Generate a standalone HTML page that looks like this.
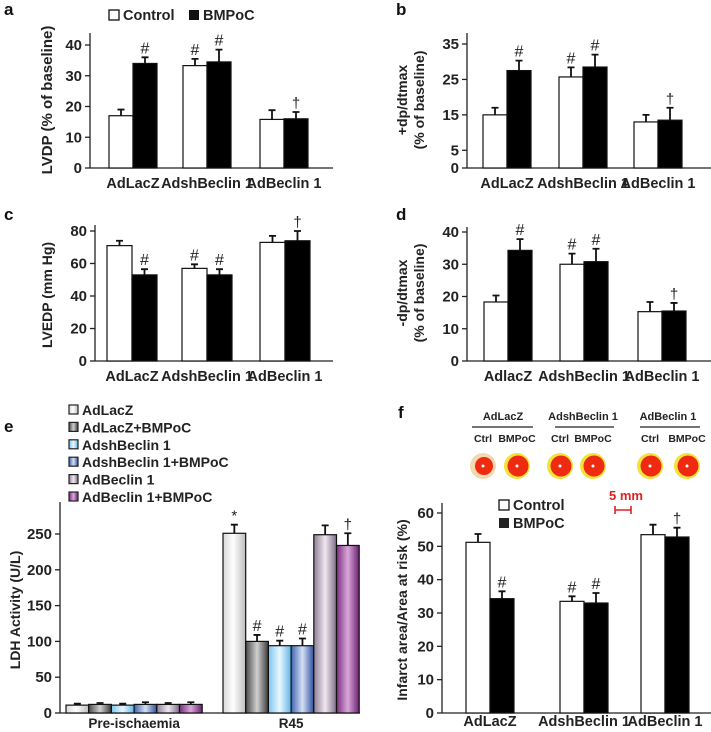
<!DOCTYPE html>
<html><head><meta charset="utf-8"><style>
body{margin:0;background:#fff;}
svg{display:block;font-family:"Liberation Sans",sans-serif;font-weight:bold;}
</style></head><body>
<svg id="fig" width="711" height="732" viewBox="0 0 711 732">
<defs>
<linearGradient id="g0" x1="0" x2="1"><stop offset="0" stop-color="#d8d8d8"/><stop offset="0.45" stop-color="#ffffff"/><stop offset="1" stop-color="#bdbdbd"/></linearGradient>
<linearGradient id="g1" x1="0" x2="1"><stop offset="0" stop-color="#4a4a4a"/><stop offset="0.5" stop-color="#d0d0d0"/><stop offset="1" stop-color="#3a3a3a"/></linearGradient>
<linearGradient id="g2" x1="0" x2="1"><stop offset="0" stop-color="#7cc6ee"/><stop offset="0.5" stop-color="#eaf7ff"/><stop offset="1" stop-color="#5fb5e8"/></linearGradient>
<linearGradient id="g3" x1="0" x2="1"><stop offset="0" stop-color="#3f63b0"/><stop offset="0.5" stop-color="#d4e0f5"/><stop offset="1" stop-color="#2f4f9c"/></linearGradient>
<linearGradient id="g4" x1="0" x2="1"><stop offset="0" stop-color="#8e7e96"/><stop offset="0.5" stop-color="#efe8f0"/><stop offset="1" stop-color="#7e6c88"/></linearGradient>
<linearGradient id="g5" x1="0" x2="1"><stop offset="0" stop-color="#7a2d7e"/><stop offset="0.5" stop-color="#d9a8d9"/><stop offset="1" stop-color="#6a1f70"/></linearGradient>
</defs>
</svg>
<script>
// Panel a: LVDP
const catsABCD = ["AdLacZ","AdshBeclin 1","AdBeclin 1"];
const catsD = ["AdlacZ","AdshBeclin 1","AdBeclin 1"];
const aCtrl = [17, 33.3, 15.8];
const aBmp = [34, 34.5, 16];
const aCtrlErr = [2, 2.2, 3];
const aBmpErr = [2, 4, 2.2];
const aTicks = [0,10,20,30,40];
// Panel b: +dp/dtmax
const bCtrl = [15, 25.7, 13];
const bBmp = [27.5, 28.5, 13.5];
const bCtrlErr = [2, 2.7, 2];
const bBmpErr = [2.8, 3.5, 3.5];
const bTicks = [0,5,15,25,35];
// Panel c: LVEDP
const cCtrl = [71, 57, 73];
const cBmp = [53, 53, 74];
const cCtrlErr = [3, 2.5, 4];
const cBmpErr = [3.5, 3.5, 6];
const cTicks = [0,20,40,60,80];
// Panel d: -dp/dtmax
const dCtrl = [18.3, 30, 15.3];
const dBmp = [34.3, 30.8, 15.5];
const dCtrlErr = [2, 3.3, 3];
const dBmpErr = [3.5, 4, 2.5];
const dTicks = [0,10,20,30,40];
// Panel e: LDH
const eCats = ["Pre-ischaemia","R45"];
const eSeries = ["AdLacZ","AdLacZ+BMPoC","AdshBeclin 1","AdshBeclin 1+BMPoC","AdBeclin 1","AdBeclin 1+BMPoC"];
const ePre = [11, 12, 11, 12, 12, 12];
const ePreErr = [2, 2, 2, 3, 2, 3];
const eR45 = [251, 100, 94, 94, 249, 234];
const eR45Err = [12, 9, 7, 10, 13, 17];
const eR45Marks = ["*","#","#","#","","†"];
const eTicks = [0,50,100,150,200,250];
// Panel f: infarct
const fCtrl = [51.2, 33.5, 53.5];
const fBmp = [34.3, 33, 52.8];
const fCtrlErr = [2.5, 1.5, 3];
const fBmpErr = [2.2, 3, 2.8];
const fTicks = [0,10,20,30,40,50,60];
const pairMarks = ["","#","#","#","","†"];

const NS="http://www.w3.org/2000/svg";
const svg=document.getElementById('fig');
function mk(tag,attrs,parent,txt){const e=document.createElementNS(NS,tag);for(const k in attrs)e.setAttribute(k,attrs[k]);if(txt!==undefined)e.textContent=txt;(parent||svg).appendChild(e);return e;}

function axes(g,p){
  const ln=mk('line',{x1:p.ax,y1:p.top,x2:p.ax,y2:p.y0,stroke:'#222','stroke-width':1.3},g);
  
  
  const xl=mk('line',{x1:p.ax,y1:p.y0,x2:p.xEnd,y2:p.y0,stroke:'#222','stroke-width':1.3},g);
  
  
  p.ticks.forEach(t=>{
    const y=p.y(t);
    mk('line',{x1:p.ax-5,y1:y,x2:p.ax,y2:y,stroke:'#222','stroke-width':1.3},g);
    const tl=mk('text',{x:p.ax-8,y:y+5,'text-anchor':'end','font-size':15,fill:'#222'},g,String(t));
    
    
  });
}
function bar(g,x,w,v,err,p,fill,mark,name){
  const y=p.y(v);
  const r=mk('rect',{x:x,y:y,width:w,height:p.y0-y,fill:fill,stroke:'#111','stroke-width':1.2},g);
  
  
  const ey=p.y(v+err), cx=x+w/2;
  const eb=mk('path',{d:`M${cx} ${y}V${ey}M${cx-3.5} ${ey}H${cx+3.5}`,stroke:'#111','stroke-width':1.8,fill:'none'},g);
  
  
  if(mark){
    const m=mk('text',{x:cx,y:ey-4,'text-anchor':'middle','font-size':mark==='#'?16:15,'font-weight':'normal',fill:'#222'},g,mark);
    
    
  }
}
function scale(y0,vRef,yRef){return v=>y0-(y0-yRef)*v/vRef;}
function pairPanel(name,p,cats,ctrl,bmp,ce,be,centers,labelY,w){
  const g=mk('g',{});
  
  
  axes(g,p);
  cats.forEach((c,i)=>{
    bar(g,centers[i]-w,w,ctrl[i],ce[i],p,'#fff',pairMarks[2*i],'bar-control-'+i);
    bar(g,centers[i],w,bmp[i],be[i],p,'#000',pairMarks[2*i+1],'bar-bmpoc-'+i);
    const t=mk('text',{x:centers[i],y:labelY,'text-anchor':'middle','font-size':14.5,fill:'#222'},g,c);
    
    
  });
  return g;
}
function ytitle(lines,x,cy,size){
  lines.forEach((l,i)=>{
    const xx=x+i*(size+3);
    const t=mk('text',{x:xx,y:cy,'text-anchor':'middle','font-size':size,fill:'#222',transform:`rotate(-90 ${xx} ${cy})`},svg,l);
    
    
  });
}
function plabel(t,x,y){const e=mk('text',{x:x,y:y,'font-size':17,fill:'#111'},svg,t);
  
  }

// panel a
plabel('a',4,15);
pairPanel('panel-a',{ax:90,top:33,y0:168,xEnd:333,ticks:aTicks,y:scale(168,40,45)},catsABCD,aCtrl,aBmp,aCtrlErr,aBmpErr,[133,207,284],188,24);
ytitle(['LVDP (% of baseline)'],52,100,15);
{const r1=mk('rect',{x:109,y:10,width:10,height:10,fill:'#fff',stroke:'#111','stroke-width':1.3});

const t1=mk('text',{x:123,y:20,'font-size':14.5,fill:'#222'},svg,'Control');

const r2=mk('rect',{x:189,y:10,width:10,height:10,fill:'#111'});

const t2=mk('text',{x:203,y:20,'font-size':14.5,fill:'#222'},svg,'BMPoC');
}

// panel b
plabel('b',396,15);
pairPanel('panel-b',{ax:467,top:33,y0:168,xEnd:711,ticks:bTicks,y:scale(168,35,44)},catsABCD,bCtrl,bBmp,bCtrlErr,bBmpErr,[507,583,658],188,24);
ytitle(['+dp/dtmax','(% of baseline)'],407,100,14);

// panel c
plabel('c',4,220);
pairPanel('panel-c',{ax:95,top:225,y0:361,xEnd:333,ticks:cTicks,y:scale(361,80,231)},catsABCD,cCtrl,cBmp,cCtrlErr,cBmpErr,[132,207,285],381,25);
ytitle(['LVEDP (mm Hg)'],52,295,14);

// panel d
plabel('d',396,220);
pairPanel('panel-d',{ax:467,top:227,y0:361,xEnd:711,ticks:dTicks,y:scale(361,40,232)},catsD,dCtrl,dBmp,dCtrlErr,dBmpErr,[508,584,662],381,24);
ytitle(['-dp/dtmax','(% of baseline)'],407,293,14);

// panel e
plabel('e',4,432);
{const p={ax:60,top:502,y0:713,xEnd:360,ticks:eTicks,y:scale(713,250,534)};
const g=mk('g',{});
axes(g,p);
const w=22.7, starts=[66,223];
[ePre,eR45].forEach((vals,ci)=>{
  const errs=ci===0?ePreErr:eR45Err;
  vals.forEach((v,i)=>{bar(g,starts[ci]+i*w,w,v,errs[i],p,`url(#g${i})`,ci===1?eR45Marks[i]:'','bar-'+eCats[ci].toLowerCase()+'-'+i);});
  const t=mk('text',{x:starts[ci]+3*w,y:728,'text-anchor':'middle','font-size':13.5,fill:'#222'},g,eCats[ci]);
  
});
eSeries.forEach((s,i)=>{
  const y=415+i*17.4;
  const r=mk('rect',{x:69,y:y-10,width:9,height:9,fill:`url(#g${i})`,stroke:'#222','stroke-width':1.2});
  
  const t=mk('text',{x:82,y:y,'font-size':14,fill:'#222'},svg,s);
  
});}
ytitle(['LDH Activity (U/L)'],20,610,14);

// panel f
plabel('f',398,418);
pairPanel('panel-f',{ax:442,top:503,y0:713,xEnd:711,ticks:fTicks,y:scale(713,60,513)},catsABCD,fCtrl,fBmp,fCtrlErr,fBmpErr,[490,584,665],726,24);
ytitle(['Infarct area/Area at risk (%)'],407,610,14);
{const r1=mk('rect',{x:499,y:500,width:10,height:10,fill:'#fff',stroke:'#111','stroke-width':1.3});

const t1=mk('text',{x:513,y:510,'font-size':14.5,fill:'#222'},svg,'Control');

const r2=mk('rect',{x:499,y:518,width:10,height:10,fill:'#222'});

const t2=mk('text',{x:513,y:528,'font-size':14.5,fill:'#222'},svg,'BMPoC');

const sb=mk('text',{x:626,y:500,'text-anchor':'middle','font-size':13,fill:'#e02020'},svg,'5 mm');

const sl=mk('path',{d:'M615 510H631M615 506V514M631 506V514',stroke:'#e02020','stroke-width':1.6});
}
{const groups=[["AdLacZ",503,472,533],["AdshBeclin 1",583,555,614],["AdBeclin 1",668,640,700]];
groups.forEach(g=>{
  const t=mk('text',{x:g[1],y:420,'text-anchor':'middle','font-size':11,fill:'#222'},svg,g[0]);
  
  mk('line',{x1:g[2],y1:427,x2:g[3],y2:427,stroke:'#222','stroke-width':1.3});
});
const hx=[483,517,560,593,650,687];
hx.forEach((x,i)=>{
  const t=mk('text',{x:x,y:442,'text-anchor':'middle','font-size':10.5,fill:'#222'},svg,i%2?'BMPoC':'Ctrl');
  
  const c=mk('circle',{cx:x,cy:466,r:13,fill:i===0?'#f3d8b0':'#f2e23a'});
  
  mk('circle',{cx:x+1,cy:466,r:i===0?9:10.5,fill:'#ee2a10'});
  mk('circle',{cx:x,cy:466,r:1.5,fill:'#fff'});
});}
</script>
</body></html>
